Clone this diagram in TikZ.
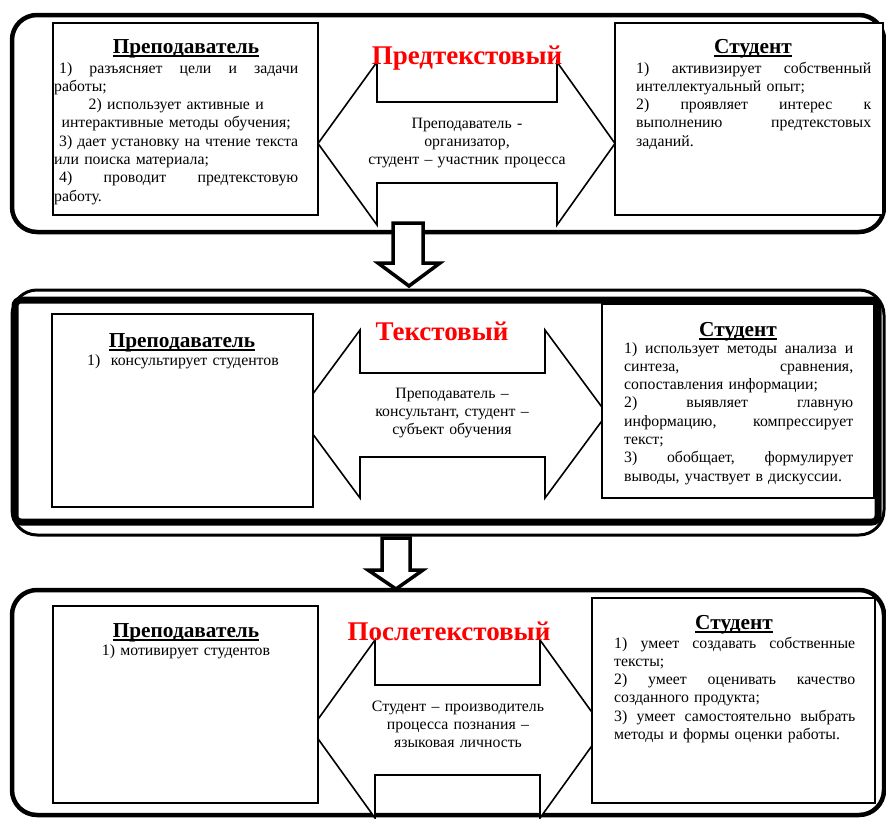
\documentclass[tikz,border=0pt]{standalone}
\usepackage{fontspec}
\setmainfont{Liberation Serif}
\usepackage{tikz}

\newcommand{\bodyfont}{\fontsize{15.8}{18.3}\selectfont}
\newcommand{\headfont}{\fontsize{21.3}{24}\selectfont\bfseries}
\newcommand{\stagefont}{\fontsize{27}{30}\selectfont\bfseries}
\newcommand{\uhead}[1]{\setbox0=\hbox{#1}\rlap{\rule[-3.5pt]{\wd0}{1.8pt}}\box0}

\begin{document}
\begin{tikzpicture}[x=1pt,y=-1pt,
    frame/.style={line width=4.5pt, rounded corners=25pt},
    box/.style={draw, line width=1.6pt, fill=white},
    bigarrow/.style={draw, line width=1.6pt, fill=white, line join=miter},
    downarrow/.style={draw, line width=3.5pt, fill=white, line join=miter},
    stage/.style={text=red, font=\stagefont, anchor=base, inner sep=0pt},
    head/.style={font=\headfont, anchor=base, inner sep=0pt},
    body/.style={font=\bodyfont, anchor=base west, align=left, inner sep=0pt},
    mid/.style={font=\bodyfont, anchor=base, align=center, text width=240pt, inner sep=0pt}]
\useasboundingbox (0,0) rectangle (886,819);

% panels
\draw[frame] (12,15) rectangle (884,232);
\draw[line width=3pt, rounded corners=25pt] (12,290) rectangle (884,535);
\draw[line width=7pt, rounded corners=6pt] (15,300) rectangle (878,522);
\draw[frame] (12,590) rectangle (884,815);

% double arrows
\foreach \xa/\xb/\xc/\xd/\ya/\yb/\yc/\yd in {318/377/557/615/62/102/183/225,
    298/360/545/607/330/373/457/498, 311/375/540/604/640/685/775/818}
  \draw[bigarrow] (\xa,{(\ya+\yd)/2}) -- (\xb,\ya) -- (\xb,\yb) -- (\xc,\yb) -- (\xc,\ya)
    -- (\xd,{(\ya+\yd)/2}) -- (\xc,\yd) -- (\xc,\yc) -- (\xb,\yc) -- (\xb,\yd) -- cycle;

% boxes
\draw[box] (53,23) rectangle (318,215);
\draw[box] (615,23) rectangle (883,215);
\draw[box] (52,314) rectangle (313,507);
\draw[box] (602,304) rectangle (874,498);
\draw[box] (53,606) rectangle (318,803);
\draw[box] (592,598) rectangle (875,803);

% arrows between panels
\draw[downarrow] (393,223) -- (423,223) -- (423,263) -- (440,263) -- (409,286)
    -- (378,263) -- (393,263) -- cycle;
\draw[downarrow] (382,538) -- (410,538) -- (410,570) -- (423,570) -- (396,589)
    -- (368,570) -- (382,570) -- cycle;

% stage 1
\node[stage] (s1) at (467,64) {Предтекстовый};
\node[mid] (m1) at (467,128) {Преподаватель -\\организатор,\\студент – участник процесса};
\node[head] (t1h) at (186,53) {\uhead{Преподаватель}};
\node[body, text width=244pt] (t1b) at (54,73) {\hspace*{5pt}1)\hfill разъясняет\hfill цели\hfill и\hfill задачи\\
работы;\\
\hfill 2) использует активные и\hfill\mbox{}\\
\hfill интерактивные методы обучения;\hfill\mbox{}\\
\hspace*{5pt}3)\hfill дает\hfill установку\hfill на\hfill чтение\hfill текста\\
или поиска материала;\\
\hspace*{5pt}4)\hfill проводит\hfill предтекстовую\\
работу.};
\node[head] (u1h) at (753,53) {\uhead{Студент}};
\node[body, text width=235pt] (u1b) at (636,73) {1)\hfill активизирует\hfill собственный\\
интеллектуальный опыт;\\
2)\hfill проявляет\hfill интерес\hfill к\\
выполнению\hfill предтекстовых\\
заданий.};

% stage 2
\node[stage] (s2) at (442,340) {Текстовый};
\node[mid] (m2) at (452,398) {Преподаватель –\\консультант, студент –\\субъект обучения};
\node[head] (t2h) at (182,347) {\uhead{Преподаватель}};
\node[mid] (t2b) at (183,365) {1)\ \ консультирует студентов};
\node[head] (u2h) at (738,336) {\uhead{Студент}};
\node[body, text width=229pt] (u2b) at (624,353) {1)\hfill использует\hfill методы\hfill анализа\hfill и\\
синтеза,\hfill сравнения,\\
сопоставления информации;\\
2)\hfill выявляет\hfill главную\\
информацию,\hfill компрессирует\\
текст;\\
3)\hfill обобщает,\hfill формулирует\\
выводы, участвует в дискуссии.};

% stage 3
\node[stage] (s3) at (449,640) {Послетекстовый};
\node[mid] (m3) at (458,711) {Студент – производитель\\процесса познания –\\языковая личность};
\node[head] (t3h) at (186,637) {\uhead{Преподаватель}};
\node[mid] (t3b) at (186,655) {1) мотивирует студентов};
\node[head] (u3h) at (734,629) {\uhead{Студент}};
\node[body, text width=241pt] (u3b) at (614,648) {1)\hfill умеет\hfill создавать\hfill собственные\\
тексты;\\
2)\hfill умеет\hfill оценивать\hfill качество\\
созданного продукта;\\
3)\hfill умеет\hfill самостоятельно\hfill выбрать\\
методы и формы оценки работы.};

\end{tikzpicture}
\end{document}
